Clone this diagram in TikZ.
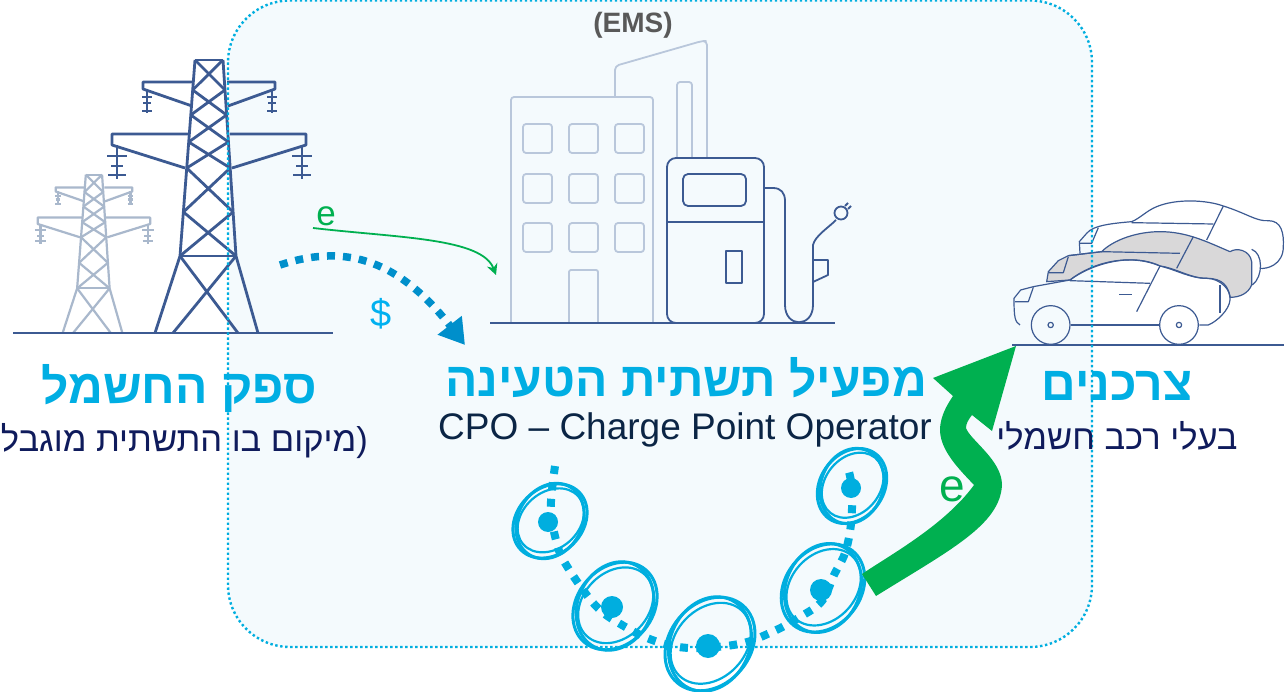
\documentclass[tikz,border=0pt]{standalone}
\usepackage{fontspec}
\setmainfont{Liberation Sans}
\newfontfamily\hebfont[Script=Hebrew]{Liberation Sans}
\TeXXeTstate=1
\usetikzlibrary{arrows.meta,calc}
\definecolor{panel}{HTML}{F4FAFD}
\definecolor{cyanline}{HTML}{00AEDF}
\definecolor{titlecyan}{HTML}{00AEE3}
\definecolor{navy}{HTML}{0F1B5C}
\definecolor{inkdark}{HTML}{0B2545}
\definecolor{steel}{HTML}{3C5A92}
\definecolor{steellight}{HTML}{A9B8CC}
\definecolor{bldg}{HTML}{B9C7DB}
\definecolor{grn}{HTML}{00B050}
\definecolor{moneyblue}{HTML}{008FCB}
\definecolor{dollar}{HTML}{00B0F0}
\definecolor{cargray}{HTML}{D9D8D9}
\definecolor{emsgray}{HTML}{595959}
\tikzset{
  titletext/.style={font=\hebfont\bfseries\fontsize{48}{54}\selectfont,text=titlecyan,inner sep=0pt},
  subtext/.style={font=\hebfont\fontsize{34.5}{40}\selectfont,text=navy,inner sep=0pt},
  groundline/.style={draw=steel,line width=1.6pt},
  bldgline/.style={draw=bldg,line width=1.8pt,line join=round},
  pumpline/.style={draw=steel,line width=1.8pt,line join=round},
  carline/.style={draw=steel,line width=1.2pt,line join=round},
  ring/.style={draw=cyanline,line width=3pt},
  hub/.style={fill=cyanline},
}
\newcommand\pylon[4]{%
 \begin{scope}[shift={(#1,333)},scale=#2,draw=#3,line width=#4,line join=round]
  \draw (-11.5,-273)--(16.5,-273) (-26.5,-77)--(29.5,-77);
  \draw (-11.5,-273)--(-26.5,-77)--(-51.5,0) (16.5,-273)--(29.5,-77)--(51.5,0);
  \draw (-26.5,-77)--(31.5,0) (29.5,-77)--(-33.5,0);
  \foreach \ya/\la/\ra/\yb/\lb/\rb in {-273/-11.5/16.5/-243/-13.8/18.5,-243/-13.8/18.5/-218/-15.7/20.1,-218/-15.7/20.1/-191/-17.8/21.9,-191/-17.8/21.9/-165/-19.8/23.7,-165/-19.8/23.7/-121/-23.1/26.6,-121/-23.1/26.6/-77/-26.5/29.5}
   {\draw (\la,\ya)--(\rb,\yb) (\ra,\ya)--(\lb,\yb);}
  \draw (-13.5,-251)--(-63.5,-251)--(-63.5,-244)--(-14.5,-227);
  \draw (20.5,-251)--(68.5,-251)--(68.5,-244)--(21.5,-227);
  \draw (-18.5,-199)--(-94.5,-199)--(-94.5,-188)--(-21.5,-165);
  \draw (23.5,-199)--(99.5,-199)--(99.5,-188)--(25.5,-165);
  \foreach \x in {-59.5,65.5}{\draw (\x,-244)--(\x,-220) (\x-5,-236)--(\x+5,-236) (\x-4,-230)--(\x+4,-230) (\x-5,-222)--(\x+5,-222);}
  \foreach \x in {-89.5,95.5}{\draw (\x,-188)--(\x,-154) (\x-10,-177)--(\x+10,-177) (\x-6,-167)--(\x+6,-167) (\x-9,-158)--(\x+9,-158);}
 \end{scope}}
\newcommand\chargepoint[5]{% x y h rot name
 \coordinate (#5) at (#1,#2);
 \draw[ring,rotate around={#4:(#5)}] (#5) ellipse [x radius=1.08*#3,y radius=.86*#3];
 \draw[ring,rotate around={#4+14:(#5)}] (#5) ellipse [x radius=1.04*#3,y radius=.84*#3];
 \draw[ring,line width=2.2pt,rotate around={#4-4:(#5)}] ($(#5)+(1,0)$) ellipse [x radius=.96*#3,y radius=.74*#3];
}
\begin{document}
\begin{tikzpicture}[x=1pt,y=-1pt]
\useasboundingbox (0,0) rectangle (1287,692);
\fill[white] (0,0) rectangle (1287,692);
\path[fill=panel,rounded corners=62pt] (228,0.5) rectangle (1092,647);
% towers
\pylon{92.5}{0.58}{steellight}{2.2pt}
\pylon{206.5}{1}{steel}{2.8pt}
\draw[groundline] (13,333) -- (333,333);
% building
\begin{scope}[bldgline]
 \draw[rounded corners=3pt] (511,323) -- (511,97) -- (653,97) -- (653,323);
 \draw[rounded corners=4pt] (615,97) -- (615,66) -- (702,41) -- (707,41) -- (707,157);
 \draw[rounded corners=3pt] (677,157) -- (677,82) -- (692,82) -- (692,157);
 \foreach \xx in {523,569,615}\foreach \yy in {124,174,223}
  {\draw[rounded corners=3pt] (\xx,\yy) rectangle ++(29,29);}
 \draw[rounded corners=2pt] (569,323) -- (569,270) -- (598,270) -- (598,323);
\end{scope}
% pump
\begin{scope}[pumpline]
 \draw[rounded corners=9pt] (667,158) rectangle (764,323);
 \draw[rounded corners=5pt] (683,174) rectangle (746,206);
 \draw (667,222) -- (764,222);
 \draw (726,251) rectangle (742,283);
 \draw (764,188) -- (773,188) .. controls (781,188) and (785,193) .. (785,201) -- (785,305)
   .. controls (785,328) and (813,328) .. (813,305) -- (813,245) .. controls (815,236) and (828,228) .. (836,220);
 \draw (841,213) circle (6.5);
 \draw (845,206)--(848,203) (848,209)--(851,206);
 \draw (813,260) -- (828,260) -- (828,275) -- (813,282);
\end{scope}
\draw[groundline] (490,323) -- (835,323);
% cars
\begin{scope}[shift={(1000pt,-190pt)},x=0.3333pt,y=-0.3333pt]
 \draw[carline] (780,235) .. controls (800,238) and (850,225) .. (850,170) .. controls (852,130) and (845,92) .. (805,92) .. controls (770,95) and (740,70) .. (670,48)
   .. controls (620,30) and (530,25) .. (470,50) .. controls (440,62) and (420,85) .. (395,95) .. controls (340,100) and (280,105) .. (260,130) -- (238,155) -- (240,190);
 \draw[carline] (395,98) -- (640,102);
 \draw[carline] (670,48) -- (620,150);
 \draw[carline] (295,113) -- (275,160) -- (240,160);
 \draw[carline,fill=cargray] (140,275) -- (145,245) -- (175,212) -- (205,197) -- (305,185) .. controls (340,150) and (410,125) .. (480,125) .. controls (560,125) and (620,155) .. (690,185) .. controls (710,172) and (750,180) .. (755,215)
   -- (755,285) .. controls (745,310) and (720,322) .. (690,322) .. controls (685,290) and (670,265) .. (620,265) .. controls (570,265) and (530,235) .. (480,228) .. controls (390,190) and (280,215) .. (210,270) -- cycle;
 \draw[carline] (205,200) -- (190,248) -- (145,248);
 \draw[carline] (205,197) -- (305,185) -- (540,190);
 \draw[carline] (580,140) -- (530,235);
 \draw[carline] (755,178) .. controls (790,190) and (790,260) .. (757,285);
 \draw[carline] (60,405) .. controls (45,395) and (42,385) .. (42,325) -- (62,300) -- (100,290) -- (210,270) .. controls (270,225) and (390,185) .. (480,228) .. controls (530,240) and (570,265) .. (620,265) .. controls (660,265) and (695,300) .. (690,330) .. controls (688,360) and (650,395) .. (625,405) -- (598,405);
 \draw[carline] (100,292) -- (85,335) -- (45,335);
 \draw[carline] (210,272) -- (450,280);
 \draw[carline] (480,228) -- (410,365);
 \draw[carline] (358,313) -- (395,313);
 \draw[carline] (660,285) -- (660,370);
 \draw[carline] (212,405) -- (478,405);
 \draw[carline] (152,405) circle (58*0.3333pt);
 \draw[carline] (537,405) circle (58*0.3333pt);
 \draw[carline] (152,405) circle (8*0.3333pt);
 \draw[carline] (537,405) circle (8*0.3333pt);
\end{scope}
\draw[groundline] (1012,345) -- (1284,345);
% panel border
\draw[cyanline,line width=2.4pt,dash pattern=on 2.4pt off 2.6pt,rounded corners=62pt] (228,0.5) rectangle (1092,647);
% arrows
\coordinate (gridE) at (313,228);
\coordinate (siteE) at (496,275);
\coordinate (gridM) at (280,265);
\coordinate (siteM) at (465,345);
\draw[grn,line width=1.8pt,-{Stealth[length=11pt,width=11pt]}] (gridE) .. controls (400,238) and (482,238) .. (siteE);
\draw[moneyblue,line width=7.5pt,dash pattern=on 8pt off 8pt,-{Triangle[length=25pt,width=29pt]}] (gridM) .. controls (340,245) and (395,255) .. (siteM);
\node[text=grn,font=\fontsize{35}{40}\selectfont,inner sep=0pt] (labE) at (326,216) {e};
\node[text=dollar,font=\fontsize{38}{44}\selectfont,inner sep=0pt] (labM) at (381,314) {\$};
% charge points
\chargepoint{550}{521}{38}{45}{cpA}
\chargepoint{615}{606}{44}{50}{cpB}
\chargepoint{710}{644}{47}{50}{cpC}
\chargepoint{823}{588}{44}{52}{cpD}
\chargepoint{852}{486}{37}{55}{cpE}
\fill[hub] (548,522) circle (10);
\fill[hub] (612,607) circle (11);
\fill[hub] (708,646) circle (12);
\fill[hub] (821,590) circle (11);
\fill[hub] (851,488) circle (10);
\draw[cyanline,line width=8pt,dash pattern=on 8pt off 8.5pt]
 plot[smooth,tension=.6] coordinates {(555,466) (552,490) (551,513) (556,540) (565,563) (595,605) (622,625) (655,641) (690,648) (739,644) (772,632) (800,617) (822,601) (834,575) (845,553) (851,524) (852,490) (849,472)};
% big green arrow
\fill[grn] (862,574) .. controls (890,555) and (945,525) .. (974,485)
  .. controls (960,470) and (939,450) .. (940,428) .. controls (941,415) and (947,405) .. (953,396)
  -- (933,378) -- (1016,346) -- (992,431) -- (972,415)
  .. controls (968,420) and (966,424) .. (966,428) .. controls (970,440) and (1002,460) .. (1002,485)
  .. controls (1000,525) and (950,550) .. (876,596) -- cycle;
\node[text=grn,font=\fontsize{46}{50}\selectfont,inner sep=0pt] (labBig) at (952,489) {e};
% texts
\node[font=\bfseries\fontsize{28}{32}\selectfont,text=emsgray,inner sep=0pt] (ems) at (633,25) {(EMS)};
\node[titletext] (t1) at (179,388) {\beginR ספק החשמל\endR};
\node[subtext,anchor=east] (s1) at (368,441) {\beginR (מיקום בו התשתית מוגבל\endR};
\node[titletext] (t2) at (686,378) {\beginR מפעיל תשתית הטעינה\endR};
\node[font=\fontsize{37}{42}\selectfont,text=inkdark,inner sep=0pt] (s2) at (685,430) {CPO – Charge Point Operator};
\node[titletext] (t3) at (1117,386) {\beginR צרכנים\endR};
\node[subtext] (s3) at (1117,436) {\beginR בעלי רכב חשמלי\endR};
\end{tikzpicture}
\end{document}
